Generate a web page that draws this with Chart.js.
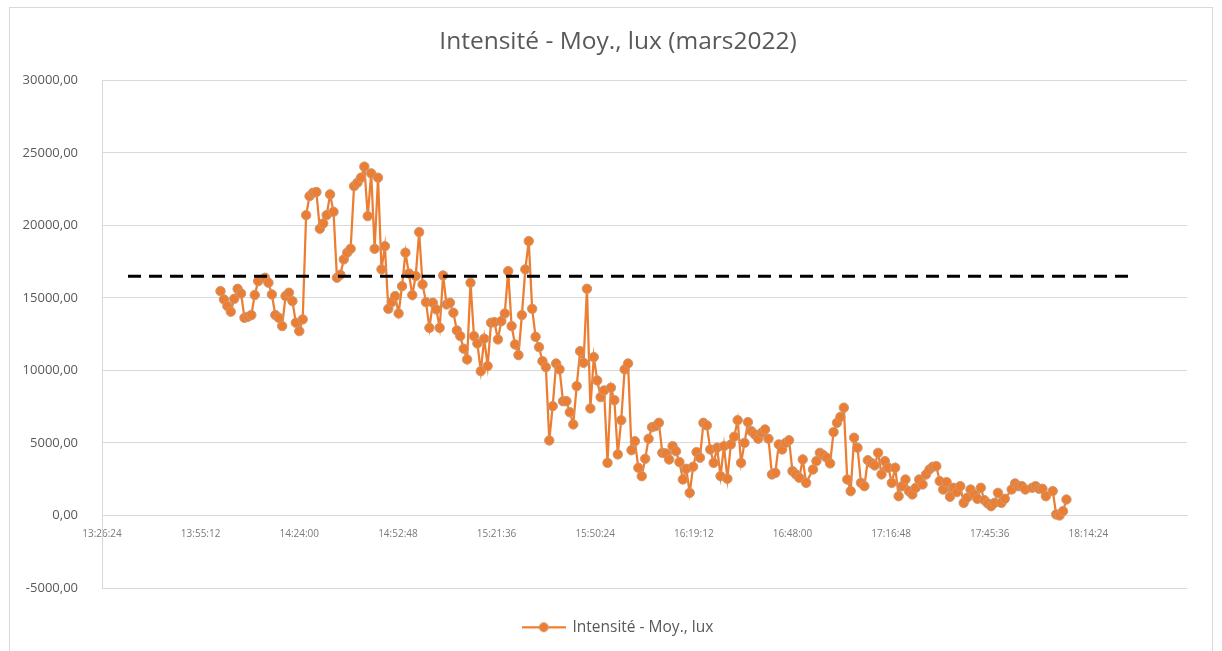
<!DOCTYPE html>
<html>
<head>
<meta charset="utf-8">
<script src="https://cdn.jsdelivr.net/npm/chart.js@4.4.1/dist/chart.umd.min.js"></script>
<style>
  html, body { margin: 0; padding: 0; background: #ffffff; }
  #wrap { position: relative; width: 1222px; height: 651px; }
</style>
</head>
<body>
<div id="wrap"><canvas id="c"></canvas></div>
<script>
// ---- data ----
const chartTitle = "Intensité - Moy., lux (mars2022)";
const seriesName = "Intensité - Moy., lux";

const times = [
"14:01","14:02","14:03","14:04","14:05","14:06","14:07","14:08","14:09","14:10","14:11","14:12",
"14:14","14:15","14:16","14:17","14:18","14:19","14:20","14:21","14:22","14:23","14:24","14:25","14:26","14:27","14:28","14:29",
"14:30","14:31","14:32","14:33","14:34","14:35","14:36","14:37","14:38","14:39","14:40","14:41","14:42","14:43","14:44","14:45",
"14:46","14:47","14:48","14:49","14:50","14:51","14:52","14:53","14:54","14:55","14:56","14:57","14:58","14:59",
"15:00","15:01","15:02","15:03","15:04","15:05","15:06","15:07","15:08","15:09","15:10","15:11","15:12","15:13","15:14","15:15",
"15:16","15:17","15:18","15:19","15:20","15:21","15:22","15:23","15:24","15:25","15:26","15:27","15:28","15:29","15:30","15:31",
"15:32","15:33","15:34","15:35","15:36","15:37","15:38","15:39","15:40","15:41","15:42","15:43","15:44","15:45","15:46","15:47",
"15:48","15:49","15:50","15:51","15:52","15:53","15:54","15:55","15:56","15:57","15:58","15:59",
"16:00","16:01","16:02","16:03","16:04","16:05","16:06","16:07","16:08","16:09","16:10","16:11","16:12","16:13","16:14","16:15",
"16:16","16:17","16:18","16:19","16:20","16:21","16:22","16:23","16:24","16:25","16:26","16:27","16:28","16:29","16:30","16:31",
"16:32","16:33","16:34","16:35","16:36","16:37","16:38","16:39","16:40","16:41","16:42","16:43","16:44","16:45","16:46","16:47",
"16:48","16:49","16:50","16:51","16:52",
"16:54","16:55","16:56","16:57","16:58","16:59",
"17:00","17:01","17:02","17:03","17:04","17:05","17:06","17:07","17:08","17:09","17:10","17:11","17:12","17:13","17:14","17:15",
"17:16","17:17","17:18","17:19","17:20","17:21","17:22","17:23","17:24","17:25","17:26","17:27","17:28","17:29","17:30","17:31",
"17:32","17:33","17:34","17:35","17:36","17:37","17:38","17:39","17:40","17:41","17:42","17:43","17:44","17:45","17:46","17:47",
"17:48","17:49","17:50",
"17:52","17:53","17:54","17:55","17:56",
"17:58","17:59","18:00","18:01","18:02",
"18:04","18:05","18:06","18:07","18:08"
];

const intensity = [
15470,14900,14440,14050,14940,15630,15310,13630,13700,13820,
15200,16160,16390,16050,15240,13820,13630,13060,15130,15360,
14780,13290,12710,13520,20710,22020,22250,22300,19770,20140,
20710,22140,20940,16390,16600,17660,18120,18390,22710,22950,
23290,24050,20640,23590,18390,23290,16970,18570,14250,14710,
15130,13930,15810,18120,16690,15200,16510,19540,15930,14710,
12940,14670,14210,12940,16550,14550,14670,13980,12760,12370,
11500,10760,16050,12370,11860,9950,12190,10300,13290,13330,
12140,13400,13930,16850,13060,11790,11060,13820,16970,18920,
14250,12320,11610,10640,10230,5170,7540,10480,10070,7880,
7880,7120,6280,8920,11330,10530,15630,7380,10920,9310,
8160,8620,3630,8810,7950,4210,6570,10070,10480,4500,
5120,3290,2710,3910,5290,6090,6160,6390,4320,4280,
3860,4780,4430,3680,2480,3220,1560,3360,4370,3980,
6390,6210,4550,3630,4670,2710,4780,2530,4900,5430,
6570,3630,5010,6440,5810,5590,5290,5700,5930,5290,
2830,2940,4900,4550,5010,5190,3060,2830,2600,3860,
2250,3170,3750,4320,4160,3980,3590,5750,6390,6800,
7430,2480,1680,5360,4670,2250,2020,3810,3630,3450,
4320,2830,3750,3290,2250,3290,1330,2020,2480,1680,
1450,1910,2480,2140,2830,3170,3360,3400,2370,1790,
2300,1290,1910,1610,2020,870,1220,1790,1450,1150,
1910,1060,830,640,870,1560,870,1150,1790,2210,
2020,2020,1790,1910,2020,1840,1840,1330,1680,70,
0,300,1100
];

// dashed reference line
const thresholdTimes = ["13:34:00", "18:28:00"];
const thresholdValues = [16500, 16500];

// axis settings
const xAxisMin = "13:26:24";
const xAxisMax = "18:43:12";
const xAxisStep = "00:28:48";
const yAxisMin = -5000;
const yAxisMax = 30000;
const yAxisStep = 5000;

// ---- helpers ----
function toSec(s) {
  const p = s.split(":").map(Number);
  return p[0] * 3600 + p[1] * 60 + (p[2] || 0);
}
function fmtTime(sec) {
  sec = Math.round(sec);
  const h = Math.floor(sec / 3600);
  const m = Math.floor((sec % 3600) / 60);
  const s = sec % 60;
  return h + ":" + String(m).padStart(2, "0") + ":" + String(s).padStart(2, "0");
}

const n = Math.min(times.length, intensity.length);
const mainData = [];
for (let i = 0; i < n; i++) mainData.push({ x: toSec(times[i]), y: intensity[i] });
const threshData = thresholdTimes.map((t, i) => ({ x: toSec(t), y: thresholdValues[i] }));

const ORANGE = "#ED7D31";
const MARKER_EDGE = "#C99A78";
const TEXT = "#595959";
const GRID = "#D9D9D9";

// legend marker image (line + circle)
const legendMarker = document.createElement("canvas");
legendMarker.width = 44; legendMarker.height = 12;
(function () {
  const g = legendMarker.getContext("2d");
  g.strokeStyle = ORANGE; g.lineWidth = 2.25;
  g.beginPath(); g.moveTo(0, 6); g.lineTo(44, 6); g.stroke();
  g.beginPath(); g.arc(22, 6, 4.5, 0, Math.PI * 2);
  g.fillStyle = ORANGE; g.fill();
  g.strokeStyle = MARKER_EDGE; g.lineWidth = 1; g.stroke();
})();

const frame = {
  id: "frame",
  beforeDraw(chart) {
    const ctx = chart.ctx;
    ctx.save();
    ctx.fillStyle = "#ffffff";
    ctx.fillRect(0, 0, chart.width, chart.height);
    ctx.strokeStyle = "#D9D9D9";
    ctx.lineWidth = 1;
    ctx.strokeRect(9.5, 7.5, 1203, 700);
    ctx.restore();
  }
};

Chart.defaults.font.family = "'Open Sans', 'Liberation Sans', sans-serif";
Chart.defaults.color = TEXT;

new Chart(document.getElementById("c"), {
  type: "line",
  data: {
    datasets: [
      {
        label: "seuil",
        data: threshData,
        borderColor: "#000000",
        borderWidth: 3,
        borderDash: [13, 8],
        pointRadius: 0,
        fill: false,
        tension: 0
      },
      {
        label: seriesName,
        data: mainData,
        borderColor: ORANGE,
        borderWidth: 2.25,
        pointRadius: 4.7,
        pointBackgroundColor: ORANGE,
        pointBorderColor: MARKER_EDGE,
        pointBorderWidth: 1,
        fill: false,
        tension: 0
      }
    ]
  },
  options: {
    responsive: true,
    maintainAspectRatio: false,
    animation: false,
    devicePixelRatio: 1,
    layout: { padding: { top: 8, left: 18, right: 4, bottom: 6 } },
    plugins: {
      title: {
        display: true,
        text: chartTitle,
        color: TEXT,
        font: { size: 24.5, weight: "normal" },
        padding: { top: 19, bottom: 24 }
      },
      legend: {
        position: "bottom",
        labels: {
          color: TEXT,
          font: { size: 15.5 },
          usePointStyle: true,
          pointStyleWidth: 42,
          padding: 31.5,
          generateLabels(chart) {
            const items = Chart.defaults.plugins.legend.labels.generateLabels(chart);
            return items.filter(it => it.datasetIndex === 1).map(it => Object.assign(it, { pointStyle: legendMarker }));
          }
        }
      },
      tooltip: { enabled: false }
    },
    scales: {
      x: {
        type: "linear",
        position: { y: 0 },
        min: toSec(xAxisMin),
        max: toSec(xAxisMax),
        grid: { display: false },
        border: { display: true, color: GRID, width: 1 },
        ticks: {
          stepSize: toSec(xAxisStep),
          autoSkip: false,
          maxRotation: 0,
          padding: 5,
          color: "#7a7a7a",
          font: { size: 10 },
          callback(v) { return v >= toSec(xAxisMax) ? "" : fmtTime(v); }
        }
      },
      y: {
        min: yAxisMin,
        max: yAxisMax,
        afterFit(s) { s.width = 84; },
        grid: { color: GRID, lineWidth: 1, drawTicks: false },
        border: { display: true, color: GRID, width: 1 },
        ticks: {
          stepSize: yAxisStep,
          padding: 24,
          color: TEXT,
          font: { size: 13 },
          callback(v) { return v.toFixed(2).replace(".", ","); }
        }
      },
      yRight: {
        position: "right",
        min: yAxisMin,
        max: yAxisMax,
        afterFit(s) { s.width = 31; },
        grid: { display: false, drawTicks: false },
        border: { display: false },
        ticks: { display: false }
      }
    }
  },
  plugins: [frame]
});
</script>
</body>
</html>
